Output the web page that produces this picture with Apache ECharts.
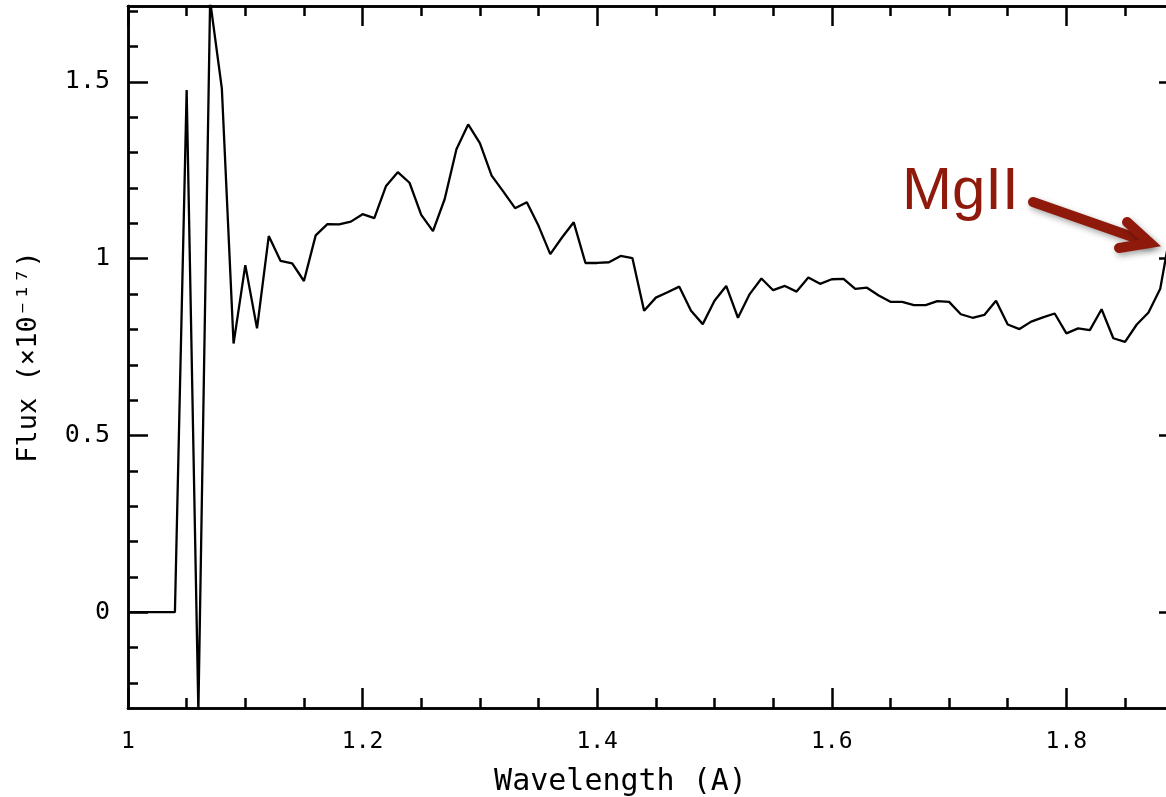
<!DOCTYPE html>
<html>
<head>
<meta charset="utf-8">
<script src="https://cdn.jsdelivr.net/npm/echarts@6/dist/echarts.min.js"></script>
<style>
  html, body { margin: 0; padding: 0; background: #fff; }
  #chart { width: 1166px; height: 797px; }
</style>
</head>
<body>
<div id="chart"></div>
<script>
// spectrum samples (wavelength step 0.01)
var wavelength = [
  1.00, 1.01, 1.02, 1.03, 1.04, 1.05, 1.06, 1.07, 1.08, 1.09,
  1.10, 1.11, 1.12, 1.13, 1.14, 1.15, 1.16, 1.17, 1.18, 1.19,
  1.20, 1.21, 1.22, 1.23, 1.24, 1.25, 1.26, 1.27, 1.28, 1.29,
  1.30, 1.31, 1.32, 1.33, 1.34, 1.35, 1.36, 1.37, 1.38, 1.39,
  1.40, 1.41, 1.42, 1.43, 1.44, 1.45, 1.46, 1.47, 1.48, 1.49,
  1.50, 1.51, 1.52, 1.53, 1.54, 1.55, 1.56, 1.57, 1.58, 1.59,
  1.60, 1.61, 1.62, 1.63, 1.64, 1.65, 1.66, 1.67, 1.68, 1.69,
  1.70, 1.71, 1.72, 1.73, 1.74, 1.75, 1.76, 1.77, 1.78, 1.79,
  1.80, 1.81, 1.82, 1.83, 1.84, 1.85, 1.86, 1.87, 1.88, 1.89
]
var flux = [
  0, 0, 0, 0, 0, 1.477, -0.28, 1.73, 1.482, 0.760,
  0.982, 0.803, 1.064, 0.994, 0.987, 0.937, 1.066, 1.098, 1.097, 1.105,
  1.126, 1.115, 1.206, 1.245, 1.215, 1.124, 1.078, 1.169, 1.310, 1.380,
  1.327, 1.235, 1.190, 1.143, 1.160, 1.093, 1.013, 1.060, 1.103, 0.988,
  0.988, 0.990, 1.008, 1.002, 0.853, 0.890, 0.905, 0.921, 0.853, 0.815,
  0.881, 0.923, 0.833, 0.900, 0.944, 0.911, 0.923, 0.907, 0.947, 0.929,
  0.942, 0.943, 0.915, 0.918, 0.896, 0.878, 0.878, 0.869, 0.869, 0.880,
  0.878, 0.843, 0.833, 0.841, 0.881, 0.814, 0.801, 0.822, 0.834, 0.845,
  0.789, 0.803, 0.798, 0.857, 0.775, 0.765, 0.814, 0.848, 0.915, 1.10
]

var xMajorTicks = [1, 1.2, 1.4, 1.6, 1.8]
var xMinorTicks = [1.05, 1.1, 1.15, 1.25, 1.3, 1.35, 1.45, 1.5, 1.55, 1.65, 1.7, 1.75, 1.85]
var yMajorTicks = [0, 0.5, 1, 1.5]
var yMinorTicks = [-0.2, -0.1, 0.1, 0.2, 0.3, 0.4, 0.6, 0.7, 0.8, 0.9, 1.1, 1.2, 1.3, 1.4, 1.6, 1.7]

var X_MIN = 1, X_MAX = 1.896
var Y_MIN = -0.271, Y_MAX = 1.715
var axisFont = 'DejaVu Sans Mono'

function xAxisDef(position, ticks, len, showLabel) {
  return {
    type: 'value',
    position: position,
    min: X_MIN,
    max: X_MAX,
    axisLine: { show: true, onZero: false, lineStyle: { color: '#000', width: 2.5 } },
    axisTick: { show: true, inside: true, length: len, customValues: ticks, lineStyle: { color: '#000', width: 2.5 } },
    axisLabel: {
      show: showLabel,
      customValues: ticks,
      margin: 23,
      color: '#000',
      fontFamily: axisFont,
      fontSize: 23,
      formatter: function(v) { return String(+v.toFixed(2)) }
    },
    splitLine: { show: false }
  }
}

function yAxisDef(position, ticks, len, showLabel) {
  return {
    type: 'value',
    position: position,
    min: Y_MIN,
    max: Y_MAX,
    axisLine: { show: true, onZero: false, lineStyle: { color: '#000', width: 2.5 } },
    axisTick: { show: true, inside: true, length: len, customValues: ticks, lineStyle: { color: '#000', width: 2.5 } },
    axisLabel: {
      show: showLabel,
      customValues: ticks,
      margin: 18,
      color: '#000',
      fontFamily: axisFont,
      fontSize: 25,
      formatter: function(v) { return String(+v.toFixed(2)) }
    },
    splitLine: { show: false }
  }
}

var xMain = xAxisDef('bottom', xMajorTicks, 20, true)
xMain.name = 'Wavelength (A)'
xMain.nameLocation = 'middle'
xMain.nameGap = 59
xMain.nameTextStyle = { color: '#000', fontFamily: axisFont, fontSize: 30, padding: [0, 66, 0, 0] }

var yMain = yAxisDef('left', yMajorTicks, 20, true)
yMain.name = 'Flux (×10⁻¹⁷)'
yMain.nameLocation = 'middle'
yMain.nameGap = 86
yMain.nameTextStyle = { color: '#000', fontFamily: axisFont, fontSize: 27 }

var chart = echarts.init(document.getElementById('chart'))

chart.setOption({
  animation: false,
  backgroundColor: '#fff',
  grid: { left: 128, top: 6, width: 1051, bottom: 89, containLabel: false, outerBoundsMode: 'none' },
  xAxis: [
    xMain,
    xAxisDef('bottom', xMinorTicks, 10, false),
    xAxisDef('top', xMajorTicks, 20, false),
    xAxisDef('top', xMinorTicks, 10, false)
  ],
  yAxis: [
    yMain,
    yAxisDef('left', yMinorTicks, 10, false),
    yAxisDef('right', yMajorTicks, 20, false),
    yAxisDef('right', yMinorTicks, 10, false)
  ],
  series: [{
    type: 'line',
    xAxisIndex: 0,
    yAxisIndex: 0,
    data: wavelength.map(function(w, i) { return [w, flux[i]] }),
    showSymbol: false,
    clip: true,
    lineStyle: { color: '#000', width: 2.3 }
  }],
  graphic: [
    {
      type: 'text',
      left: 902,
      top: 162,
      style: { text: 'MgII', fill: '#8f1a0c', font: '60px "Liberation Sans", Arial, sans-serif' }
    },
    {
      type: 'polyline',
      shape: { points: [[1033, 202], [1147, 242]] },
      style: { stroke: '#8f1a0c', lineWidth: 10, lineCap: 'round', shadowBlur: 6, shadowOffsetX: 2, shadowOffsetY: 3, shadowColor: 'rgba(0,0,0,0.35)' }
    },
    {
      type: 'polyline',
      shape: { points: [[1127, 222], [1150, 243], [1119, 248]] },
      style: { stroke: '#8f1a0c', fill: null, lineWidth: 10, lineCap: 'round', lineJoin: 'miter', shadowBlur: 6, shadowOffsetX: 2, shadowOffsetY: 3, shadowColor: 'rgba(0,0,0,0.35)' }
    }
  ]
})
</script>
</body>
</html>
